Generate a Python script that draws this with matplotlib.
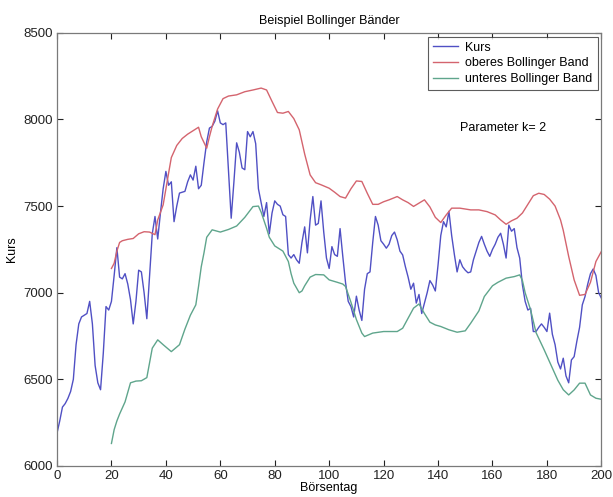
import matplotlib
matplotlib.use("Agg")
import matplotlib.pyplot as plt

# Kurs (day, value)
kurs_tage = list(range(0, 201))
kurs_werte = [
    6190, 6260, 6340, 6360, 6390, 6430, 6500, 6700, 6820, 6860,
    6870, 6880, 6950, 6820, 6580, 6480, 6440, 6650, 6920, 6900,
    6950, 7100, 7260, 7090, 7080, 7110, 7050, 6960, 6820, 6950,
    7130, 7120, 7000, 6850, 7100, 7340, 7440, 7310, 7460, 7600,
    7700, 7620, 7640, 7410, 7500, 7575, 7580, 7585, 7640, 7680,
    7650, 7730, 7600, 7620, 7750, 7870, 7950, 7960, 7990, 8050,
    7980, 7970, 7980, 7700, 7430, 7640, 7865, 7810, 7720, 7710,
    7930, 7900, 7930, 7860, 7600, 7520, 7440, 7520, 7340, 7460,
    7530, 7510, 7500, 7450, 7440, 7220, 7200, 7220, 7190, 7170,
    7290, 7380, 7230, 7420, 7555, 7390, 7400, 7530, 7350, 7200,
    7140, 7266, 7220, 7210, 7370, 7210, 7060, 6950, 6920, 6860,
    6980, 6900, 6840, 7020, 7110, 7120, 7290, 7440, 7390, 7300,
    7280, 7257, 7280, 7330, 7350, 7305, 7240, 7218, 7150, 7090,
    7020, 7055, 6940, 6990, 6880, 6940, 7000, 7070, 7045, 7010,
    7160, 7330, 7410, 7380, 7470, 7330, 7220, 7120, 7190, 7150,
    7130, 7115, 7120, 7190, 7240, 7290, 7325, 7280, 7240, 7210,
    7250, 7280, 7320, 7343, 7280, 7200, 7390, 7355, 7370, 7260,
    7200, 7045, 6950, 6900, 6910, 6776, 6776, 6800, 6820, 6800,
    6776, 6882, 6760, 6700, 6600, 6560, 6622, 6520, 6480, 6612,
    6631, 6720, 6800, 6930, 6978, 7050, 7110, 7137, 7100, 7000,
    6969,
]

# oberes Bollinger Band
oben_tage = [
    20, 21, 22, 23, 24, 26, 28, 30, 32, 34, 36, 37, 39, 41, 42, 44, 46, 48,
    50, 52, 53, 55, 56, 57, 59, 61, 63, 66, 69, 72, 75, 77, 79, 81, 83, 85,
    87, 89, 91, 93, 95, 97, 100, 102, 104, 106, 108, 110, 112, 114, 116, 118,
    120, 122, 125, 127, 129, 131, 133, 135, 137, 139, 141, 143, 145, 148, 152,
    155, 158, 161, 163, 165, 167, 169, 171, 173, 175, 177, 179, 181, 183, 185,
    186, 188, 190, 192, 194, 196, 198, 200,
]
oben_werte = [
    7140, 7170, 7240, 7290, 7300, 7308, 7313, 7340, 7352, 7350, 7335, 7420,
    7507, 7690, 7780, 7850, 7890, 7915, 7935, 7955, 7900, 7834, 7900, 7960,
    8060, 8120, 8135, 8142, 8160, 8170, 8181, 8170, 8104, 8040, 8036, 8046,
    8005, 7940, 7800, 7680, 7635, 7623, 7603, 7580, 7555, 7546, 7600, 7645,
    7642, 7574, 7510, 7510, 7525, 7536, 7555, 7536, 7520, 7498, 7517, 7536,
    7495, 7435, 7405, 7449, 7488, 7488, 7478, 7478, 7468, 7449, 7420, 7395,
    7415, 7430, 7460, 7510, 7560, 7574, 7567, 7540, 7500, 7420, 7360, 7209,
    7074, 6985, 6990, 7060, 7180, 7238,
]

# unteres Bollinger Band
unten_tage = [
    20, 21, 22, 23, 25, 27, 29, 31, 33, 35, 37, 39, 42, 45, 47, 49, 51, 52,
    53, 54, 55, 57, 60, 63, 66, 69, 72, 74, 75, 77, 78, 80, 83, 85, 86, 87,
    89, 90, 91, 93, 95, 98, 100, 103, 105, 106, 108, 110, 112, 113, 116, 120,
    125, 127, 129, 131, 133, 135, 137, 139, 141, 144, 147, 150, 152, 155, 157,
    160, 162, 165, 168, 170, 171, 172, 174, 176, 179, 181, 184, 186, 188, 190,
    192, 194, 196, 198, 200,
]
unten_werte = [
    6130, 6210, 6260, 6300, 6370, 6480, 6490, 6492, 6510, 6680, 6728, 6700,
    6660, 6700, 6790, 6870, 6930, 7036, 7150, 7230, 7320, 7363, 7350, 7365,
    7385, 7435, 7497, 7500, 7465, 7372, 7320, 7270, 7240, 7180, 7110, 7055,
    7000, 7010, 7040, 7090, 7105, 7103, 7074, 7060, 7050, 7036, 6945, 6845,
    6767, 6747, 6767, 6776, 6776, 6795, 6853, 6911, 6935, 6880, 6830, 6814,
    6805, 6786, 6772, 6780, 6824, 6895, 6978, 7040, 7060, 7084, 7093, 7103,
    7070, 7000, 6901, 6770, 6670, 6600, 6495, 6440, 6410, 6439, 6478, 6478,
    6410, 6391, 6385,
]

x_ticks = list(range(0, 201, 20))
y_ticks = list(range(6000, 8501, 500))

plt.rcParams["font.family"] = ["Liberation Sans", "DejaVu Sans"]

fig = plt.figure(figsize=(6.13, 4.97), dpi=100)
ax = fig.add_axes([0.093, 0.0624, 0.888, 0.8716])

ax.plot(kurs_tage, kurs_werte, color="#5050c4", lw=1.0, label="Kurs")
ax.plot(oben_tage, oben_werte, color="#d4646e", lw=1.0, label="oberes Bollinger Band")
ax.plot(unten_tage, unten_werte, color="#5fa58c", lw=1.0, label="unteres Bollinger Band")

ax.set_xlim(0, 200)
ax.set_ylim(6000, 8500)
ax.set_xticks(x_ticks)
ax.set_yticks(y_ticks)
ax.tick_params(direction="in", top=True, right=True, length=4, width=0.8,
               labelsize=9.5, colors="#222222", pad=3)
for spine in ax.spines.values():
    spine.set_color("#7a7a7a")
    spine.set_linewidth(0.9)

ax.set_title("Beispiel Bollinger Bänder", fontsize=9, pad=6)
ax.set_xlabel("Börsentag", fontsize=9, labelpad=0)
ax.set_ylabel("Kurs", fontsize=9, labelpad=4)

leg = ax.legend(loc="upper right", fontsize=9, frameon=True, fancybox=False,
                handlelength=2.0, borderpad=0.4, labelspacing=0.3,
                handletextpad=0.6, borderaxespad=0.3)
leg.get_frame().set_edgecolor("#333333")
leg.get_frame().set_linewidth(0.8)

ax.text(148, 7950, "Parameter k= 2", fontsize=9, va="center", ha="left")

fig.savefig("out.png", dpi=100)
